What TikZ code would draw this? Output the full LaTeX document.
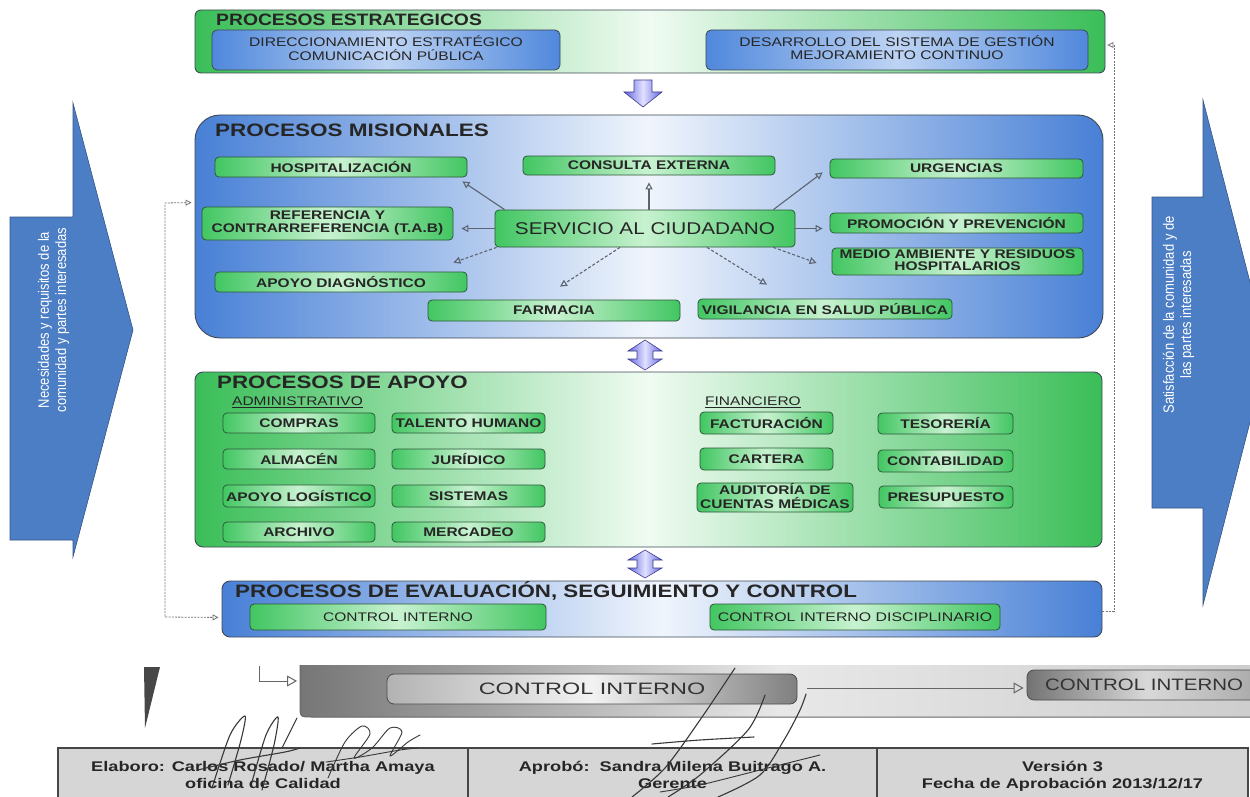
\documentclass[tikz,border=0pt]{standalone}
\usepackage{fontspec}
\setmainfont{Liberation Sans}
\usepackage{graphicx}
\usetikzlibrary{arrows.meta,calc}

\definecolor{gA}{RGB}{58,190,88}
\definecolor{gL}{RGB}{240,251,242}
\definecolor{gN}{RGB}{66,198,98}
\definecolor{gNL}{RGB}{200,242,208}
\definecolor{bA}{RGB}{72,128,214}
\definecolor{bL}{RGB}{240,245,252}
\definecolor{bN}{RGB}{80,136,220}
\definecolor{bNL}{RGB}{190,212,244}
\definecolor{edgeD}{RGB}{62,72,84}
\definecolor{edgeG}{RGB}{44,88,56}
\definecolor{arrG}{RGB}{92,100,112}
\definecolor{pu}{RGB}{100,100,228}
\definecolor{puL}{RGB}{225,225,255}
\definecolor{bigB}{RGB}{76,126,198}
\definecolor{bigE}{RGB}{52,84,132}
\definecolor{txt}{RGB}{38,38,38}
\definecolor{grD}{RGB}{118,118,118}
\definecolor{grL}{RGB}{232,232,232}
\definecolor{grM}{RGB}{205,205,205}
\definecolor{cellF}{RGB}{214,214,214}
\definecolor{cellE}{RGB}{70,70,70}
\definecolor{sigC}{RGB}{55,55,55}

\newcommand{\fsz}[2]{\fontsize{#1}{#2}\selectfont}
\newcommand{\hsc}[2][1.24]{\scalebox{#1}[1]{#2}}
\newcommand{\twol}[3][1.24]{\scalebox{#1}[1]{\begin{tabular}{@{}c@{}}#2\\#3\end{tabular}}}

\tikzset{
  sectG/.style={draw=edgeD, line width=0.9pt, rounded corners=6pt, left color=gA, right color=gA, middle color=gL},
  sectB/.style={draw=edgeD, line width=0.9pt, rounded corners=7pt, left color=bA, right color=bA, middle color=bL},
  gbox/.style={draw=edgeG, line width=0.8pt, rounded corners=4pt, left color=gN, right color=gN, middle color=gNL, inner sep=0pt, text=txt, font=\fsz{12.5}{13}\bfseries},
  bbox/.style={draw=edgeD, line width=0.8pt, rounded corners=5pt, left color=bN, right color=bN, middle color=bNL, inner sep=0pt, text=txt, font=\fsz{12.5}{13}},
  ttl/.style={anchor=west, inner sep=0pt, text=txt, font=\fsz{18}{20}\bfseries},
  sub/.style={anchor=west, inner sep=0pt, text=txt, font=\fsz{12.5}{13}},
  sarr/.style={draw=arrG, line width=1.1pt, -{Triangle[open,length=7pt,width=7pt]}},
  darr/.style={sarr, dash pattern=on 3pt off 2pt},
  fb/.style={draw=black!55, line width=0.8pt, dash pattern=on 2pt off 1.2pt},
  fbtip/.tip={Triangle[open,length=6pt,width=6pt]},
  parrow/.style={draw=pu!60!black, line width=0.6pt, left color=pu, right color=pu, middle color=puL},
  bigarrow/.style={fill=bigB, draw=bigE, line width=0.6pt},
  sidetxt/.style={rotate=90, text=white, inner sep=0pt, font=\fsz{13}{15}},
  cibox/.style={draw=black!70, line width=0.8pt, rounded corners=7pt, left color=black!30, right color=black!50, middle color=black!5, inner sep=0pt, text=black!80, font=\fsz{16.5}{18}},
  tcell/.style={draw=cellE, line width=1.5pt, fill=cellF, inner sep=0pt, text=black!85, font=\fsz{14}{17}\bfseries},
  sig/.style={draw=sigC, line width=1.1pt, line cap=round, line join=round},
}

\begin{document}
\begin{tikzpicture}[x=1pt,y=-1pt]
\useasboundingbox (0,0) rectangle (1250,797);
\clip (0,0) rectangle (1250,797);

% ---------- big side arrows ----------
\path[bigarrow] (10,217) -- (73,217) -- (73,103) -- (133,330) -- (73,557) -- (73,540) -- (10,540) -- cycle;
\node[sidetxt] (need) at (54,320) {\scalebox{1}[1.15]{\begin{tabular}{@{}c@{}}Necesidades y requisitos de la\\comunidad y partes interesadas\end{tabular}}};

\path[bigarrow] (1152,197) -- (1203,197) -- (1203,100) -- (1268,352) -- (1203,605) -- (1203,508) -- (1152,508) -- cycle;
\node[sidetxt] (sat) at (1179,315) {\scalebox{1}[1.15]{\begin{tabular}{@{}c@{}}Satisfacción de la comunidad y de\\las partes interesadas\end{tabular}}};

% ---------- estrategicos ----------
\node[sectG, minimum width=910pt, minimum height=63pt] (estr) at (650,41.5) {};
\node[ttl, font=\fsz{16.5}{18}\bfseries] (estrT) at (216,20) {\hsc[1.17]{PROCESOS ESTRATEGICOS}};
\node[bbox, minimum width=348pt, minimum height=40pt] (dir) at (386,50) {\twol[1.25]{DIRECCIONAMIENTO ESTRATÉGICO}{COMUNICACIÓN PÚBLICA}};
\node[bbox, minimum width=382pt, minimum height=40pt] (des) at (897,50) {\twol[1.25]{DESARROLLO DEL SISTEMA DE GESTIÓN}{MEJORAMIENTO CONTINUO}};

% down arrow
\path[parrow] (634,80) -- (652,80) -- (652,92) -- (662,92) -- (643,107) -- (624,92) -- (634,92) -- cycle;

% ---------- misionales ----------
\node[sectB, rounded corners=25pt, minimum width=908pt, minimum height=223pt] (mis) at (649,226.5) {};
\node[ttl] (misT) at (215,130) {\hsc[1.25]{PROCESOS MISIONALES}};

\node[gbox, minimum width=252pt, minimum height=20pt] (hosp) at (341,167) {\hsc{HOSPITALIZACIÓN}};
\node[gbox, minimum width=252pt, minimum height=19pt] (cons) at (649,165.5) {\hsc{CONSULTA EXTERNA}};
\node[gbox, minimum width=253pt, minimum height=19pt] (urg) at (956.5,168.5) {\hsc{URGENCIAS}};
\node[gbox, minimum width=251pt, minimum height=33pt] (ref) at (327.5,223.5) {\twol{REFERENCIA Y}{CONTRARREFERENCIA (T.A.B)}};
\node[gbox, minimum width=300pt, minimum height=37pt, font=\fsz{17}{19}] (serv) at (645,228.5) {\hsc[1.22]{SERVICIO AL CIUDADANO}};
\node[gbox, minimum width=253pt, minimum height=20pt] (promo) at (956.5,223) {\hsc{PROMOCIÓN Y PREVENCIÓN}};
\node[gbox, minimum width=251pt, minimum height=27pt, font=\fsz{12.5}{11.5}\bfseries] (medio) at (957.5,261.5) {\twol{MEDIO AMBIENTE Y RESIDUOS}{HOSPITALARIOS}};
\node[gbox, minimum width=252pt, minimum height=20pt] (apd) at (341,282) {\hsc{APOYO DIAGNÓSTICO}};
\node[gbox, minimum width=252pt, minimum height=21pt] (farm) at (554,310.5) {\hsc{FARMACIA}};
\node[gbox, minimum width=254pt, minimum height=20pt] (vig) at (825,309) {\hsc{VIGILANCIA EN SALUD PÚBLICA}};

% connectors from servicio
\draw[sarr] ($(serv.north west)+(10,0)$) -- ($(hosp.south east)+(-5,4)$);
\draw[sarr, shorten >=7pt] (serv.north -| cons.south) -- (cons.south);
\draw[sarr] ($(serv.north east)+(-22,0)$) -- ($(urg.south west)+(-7,-6)$);
\draw[sarr, shorten >=8pt] (serv.west) -- (serv.west -| ref.east);
\draw[sarr, shorten >=7pt] (serv.east) -- (serv.east -| promo.west);
\draw[darr] ($(serv.south east)+(-22,0)$) -- ($(medio.west)+(-15,1.5)$);
\draw[darr] ($(serv.south)+(62,0)$) -- ($(vig.north)+(-58,-14)$);
\draw[darr] ($(serv.south)+(-25,0)$) -- ($(farm.north)+(6,-13)$);
\draw[darr] ($(serv.south west)+(2,0)$) -- ($(apd.north east)+(-14,-9)$);

% double arrow 1
\path[parrow] (645,340) -- (662,351) -- (653,351) -- (653,359) -- (662,359) -- (645,370) -- (628,359) -- (637,359) -- (637,351) -- (628,351) -- cycle;

% ---------- apoyo ----------
\node[sectG, rounded corners=8pt, minimum width=907pt, minimum height=175pt] (apo) at (648.5,459.5) {};
\node[ttl] (apoT) at (217,382) {\hsc[1.24]{PROCESOS DE APOYO}};
\node[sub] (adm) at (232,402) {\hsc{\underline{ADMINISTRATIVO}}};
\node[sub] (fin) at (705,402) {\hsc{\underline{FINANCIERO}}};

\node[gbox, minimum width=152pt, minimum height=20pt] (compras) at (299,423) {\hsc{COMPRAS}};
\node[gbox, minimum width=153pt, minimum height=20pt] (talento) at (468.5,423) {\hsc{TALENTO HUMANO}};
\node[gbox, minimum width=152pt, minimum height=20pt] (almacen) at (299,459) {\hsc{ALMACÉN}};
\node[gbox, minimum width=153pt, minimum height=20pt] (juridico) at (468.5,459) {\hsc{JURÍDICO}};
\node[gbox, minimum width=152pt, minimum height=22pt] (logis) at (299,496) {\hsc{APOYO LOGÍSTICO}};
\node[gbox, minimum width=153pt, minimum height=22pt] (sistemas) at (468.5,496) {\hsc{SISTEMAS}};
\node[gbox, minimum width=152pt, minimum height=20pt] (archivo) at (299,532) {\hsc{ARCHIVO}};
\node[gbox, minimum width=153pt, minimum height=20pt] (mercadeo) at (468.5,532) {\hsc{MERCADEO}};

\node[gbox, minimum width=133pt, minimum height=22pt] (factur) at (766.5,423) {\hsc{FACTURACIÓN}};
\node[gbox, minimum width=135pt, minimum height=21pt] (tesor) at (945.5,423.5) {\hsc{TESORERÍA}};
\node[gbox, minimum width=133pt, minimum height=22pt] (cartera) at (766.5,459) {\hsc{CARTERA}};
\node[gbox, minimum width=135pt, minimum height=22pt] (contab) at (945.5,461) {\hsc{CONTABILIDAD}};
\node[gbox, minimum width=156pt, minimum height=25pt, font=\fsz{12.5}{11.5}\bfseries] (audit) at (775,497.5) {\twol{AUDITORÍA DE}{CUENTAS MÉDICAS}};
\node[gbox, minimum width=134pt, minimum height=22pt] (presu) at (946,497) {\hsc{PRESUPUESTO}};

% double arrow 2
\path[parrow] (645,550) -- (662,560) -- (653,560) -- (653,568) -- (662,568) -- (645,578) -- (628,568) -- (637,568) -- (637,560) -- (628,560) -- cycle;

% ---------- evaluacion ----------
\node[sectB, rounded corners=8pt, minimum width=880pt, minimum height=56pt] (eval) at (662,609) {};
\node[ttl] (evalT) at (235,591) {\hsc[1.24]{PROCESOS DE EVALUACIÓN, SEGUIMIENTO Y CONTROL}};
\node[gbox, minimum width=296pt, minimum height=26pt, font=\fsz{12.5}{13}] (ci) at (398,617) {\hsc{CONTROL INTERNO}};
\node[gbox, minimum width=290pt, minimum height=26pt, font=\fsz{12.5}{13}] (cid) at (855,617) {\hsc[1.27]{CONTROL INTERNO DISCIPLINARIO}};

% ---------- feedback dashed lines ----------
\coordinate (lf1) at (165,203);
\coordinate (lf2) at (165,617);
\draw[fb, {fbtip}-{fbtip}] ($(mis.north west)+(-3,88)$) -- (lf1) -- (lf2) -- ($(eval.south west)+(-3,-20)$);
\coordinate (rf1) at (1114,611);
\coordinate (rf2) at (1114,45);
\draw[fb, -{fbtip}] ($(eval.east)+(0,2)$) -- (rf1) -- (rf2) -- ($(estr.east)+(2,3.5)$);

% ---------- scanned bottom strip ----------
\fill[black!72] (144,667) -- (160,667) -- (145,728) -- cycle;
\shade[left color=grD, right color=grM, middle color=grL] (1260,665) -- (300,665) -- (300,705) .. controls (300,717) .. (312,717) -- (1260,717) -- cycle;
\draw[black!60, line width=1pt] (300,665) -- (300,705) .. controls (300,717) .. (312,717) -- (1260,717);
\coordinate (lb1) at (259,666);
\coordinate (lb2) at (259,681);
\draw[black!60, line width=1pt, -{Triangle[open,length=10pt,width=11pt]}] (lb1) -- (lb2) -- (297,681);

\node[cibox, minimum width=410pt, minimum height=30pt] (ci2) at (592,689) {\hsc[1.42]{CONTROL INTERNO}};
\node[cibox, left color=black!55, right color=black!35, middle color=black!15, minimum width=240pt, minimum height=30pt] (ci3) at (1147,685) {};
\node[anchor=west, inner sep=0pt, text=black!80, font=\fsz{16.5}{18}] (ci3T) at (1045,685) {\hsc[1.24]{CONTROL INTERNO}};
\draw[black!60, line width=1pt, -{Triangle[open,length=10pt,width=11pt]}] ($(ci2.east)+(10,-1)$) -- ($(ci2.east -| ci3.west)+(-3,-1)$);

% table
\node[tcell, minimum width=410pt, minimum height=57pt] (c1) at (263,776.5) {\twol[1.3]{Elaboro: Carlos Rosado/ Martha Amaya}{oficina de Calidad}};
\node[tcell, minimum width=409pt, minimum height=57pt] (c2) at (672.5,776.5) {\twol[1.3]{Aprobó:\ \ Sandra Milena Buitrago A.}{Gerente}};
\node[tcell, minimum width=371pt, minimum height=57pt] (c3) at (1062.5,776.5) {\twol[1.3]{Versión 3}{Fecha de Aprobación 2013/12/17}};

% signatures
\draw[sig] plot[smooth] coordinates {(212,788) (230,735) (245,716) (241,740) (228,785)};
\draw[sig] plot[smooth] coordinates {(252,782) (266,735) (278,717) (274,745) (262,790)};
\draw[sig] plot[smooth] coordinates {(198,770) (240,760) (285,752) (300,748)};
\draw[sig] (297,718) -- (282,748);
\draw[sig, line width=0.9pt] plot[smooth] coordinates {(328,778) (345,742) (362,726) (370,734) (354,758) (372,748) (390,728) (402,732) (390,756) (408,742) (420,735)};
\draw[sig, line width=0.9pt] plot[smooth] coordinates {(326,762) (360,757) (400,750) (418,748)};
\draw[sig] plot[smooth] coordinates {(735,668) (700,720) (665,768) (632,797)};
\draw[sig] plot[smooth] coordinates {(765,695) (748,730) (700,775) (668,797)};
\draw[sig] plot[smooth] coordinates {(652,744) (700,740) (754,737)};
\draw[sig] plot[smooth] coordinates {(806,694) (800,710) (784,740) (760,775) (718,797)};
\draw[sig, line width=0.9pt] plot[smooth] coordinates {(660,792) (700,785) (760,770) (820,755)};
\end{tikzpicture}
\end{document}
